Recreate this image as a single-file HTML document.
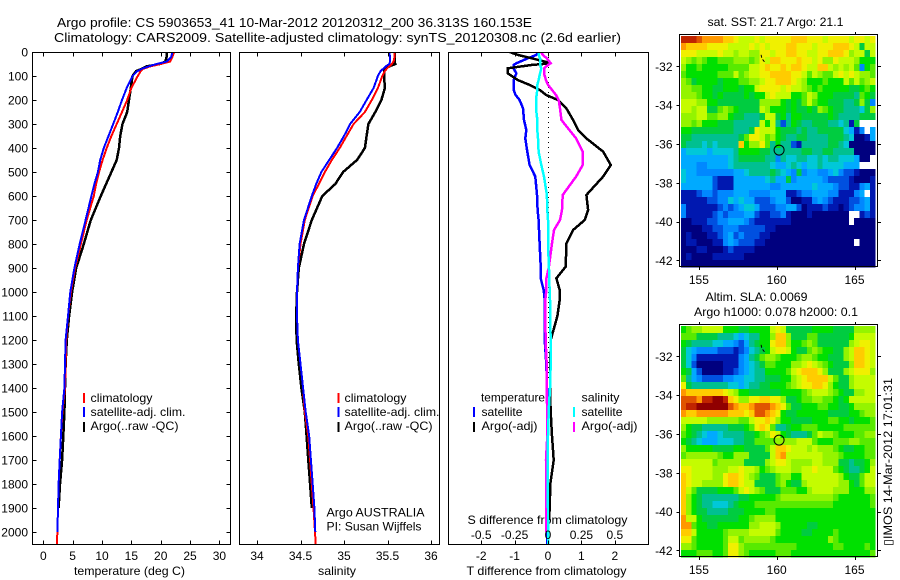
<!DOCTYPE html>
<html>
<head>
<meta charset="utf-8">
<title>Argo profile</title>
<style>
html,body{margin:0;padding:0;background:#fff;}
svg{display:block;}
text{font-family:"Liberation Sans",sans-serif;font-size:12px;fill:#000;}
.frame{fill:none;stroke:#000;stroke-width:1;shape-rendering:crispEdges;}
</style>
</head>
<body>
<svg id="chart" width="900" height="580" viewBox="0 0 900 580" xmlns="http://www.w3.org/2000/svg">
<text x="57" y="27" style="font-size:13px" textLength="475" lengthAdjust="spacingAndGlyphs">Argo profile: CS 5903653_41 10-Mar-2012 20120312_200 36.313S 160.153E</text>
<text x="54" y="42" style="font-size:13px" textLength="567" lengthAdjust="spacingAndGlyphs">Climatology: CARS2009. Satellite-adjusted climatology: synTS_20120308.nc (2.6d earlier)</text>
<text x="707.5" y="26" textLength="136" lengthAdjust="spacingAndGlyphs">sat. SST: 21.7 Argo: 21.1</text>
<text x="705.5" y="301" textLength="102" lengthAdjust="spacingAndGlyphs">Altim. SLA: 0.0069</text>
<text x="694" y="316" textLength="164" lengthAdjust="spacingAndGlyphs">Argo h1000: 0.078 h2000: 0.1</text>
<text transform="translate(892,546) rotate(-90)" textLength="168" lengthAdjust="spacingAndGlyphs">▯IMOS 14-Mar-2012 17:01:31</text>

<text x="74" y="575" textLength="111" lengthAdjust="spacingAndGlyphs">temperature (deg C)</text>
<text x="318" y="575" textLength="38" lengthAdjust="spacingAndGlyphs">salinity</text>
<text x="466.5" y="575" textLength="160" lengthAdjust="spacingAndGlyphs">T difference from climatology</text>
<text x="467.5" y="524" textLength="160" lengthAdjust="spacingAndGlyphs">S difference from climatology</text>

<text x="326.5" y="516.5" textLength="98" lengthAdjust="spacingAndGlyphs">Argo AUSTRALIA</text>
<text x="326.5" y="530.5" textLength="95" lengthAdjust="spacingAndGlyphs">PI: Susan Wijffels</text>

<g>
<rect x="83" y="393" width="2" height="10" fill="#f00"/>
<text x="90.5" y="402" textLength="62" lengthAdjust="spacingAndGlyphs">climatology</text>
<rect x="83" y="407" width="2" height="10" fill="#00f"/>
<text x="90.5" y="416" textLength="95" lengthAdjust="spacingAndGlyphs">satellite-adj. clim.</text>
<rect x="83" y="422" width="2" height="10" fill="#000"/>
<text x="90.5" y="430" textLength="88" lengthAdjust="spacingAndGlyphs">Argo(..raw -QC)</text>
</g>
<g>
<rect x="337.5" y="393" width="2" height="10" fill="#f00"/>
<text x="344.5" y="402" textLength="62" lengthAdjust="spacingAndGlyphs">climatology</text>
<rect x="337.5" y="407" width="2" height="10" fill="#00f"/>
<text x="344.5" y="416" textLength="95" lengthAdjust="spacingAndGlyphs">satellite-adj. clim.</text>
<rect x="337.5" y="422" width="2" height="10" fill="#000"/>
<text x="344.5" y="430" textLength="88" lengthAdjust="spacingAndGlyphs">Argo(..raw -QC)</text>
</g>
<g>
<text x="481" y="401.5" textLength="64" lengthAdjust="spacingAndGlyphs">temperature</text>
<rect x="473" y="407" width="2" height="10" fill="#00f"/>
<text x="481.5" y="416" textLength="41" lengthAdjust="spacingAndGlyphs">satellite</text>
<rect x="473" y="422" width="2" height="10" fill="#000"/>
<text x="481.5" y="430" textLength="56" lengthAdjust="spacingAndGlyphs">Argo(-adj)</text>
<text x="581.5" y="401.5" textLength="38" lengthAdjust="spacingAndGlyphs">salinity</text>
<rect x="573" y="407" width="2" height="10" fill="#0ff"/>
<text x="581.5" y="416" textLength="41" lengthAdjust="spacingAndGlyphs">satellite</text>
<rect x="573" y="422" width="2" height="10" fill="#f0f"/>
<text x="581.5" y="430" textLength="56" lengthAdjust="spacingAndGlyphs">Argo(-adj)</text>
</g>
</svg>
<script>
const profileDepth = [0,20,40,50,60,70,80,100,150,200,250,300,350,400,450,500,550,600,700,800,900,1000,1100,1200,1300,1400,1500,1600,1700,1800,1900,2000,2050];
const tempClim = [22.3,22.0,21.6,20.0,18.2,17.0,16.6,16.1,15.0,14.3,13.4,12.5,11.6,10.8,10.1,9.5,9.0,8.6,7.4,6.4,5.4,4.7,4.2,3.9,3.8,3.7,3.25,3.0,2.8,2.6,2.5,2.4,2.3];
const tempSat = [22.0,21.8,21.0,19.3,17.9,16.8,16.0,15.2,14.2,13.4,12.7,11.9,11.1,10.3,9.7,9.3,8.7,8.2,7.2,6.2,5.3,4.6,4.2,3.8,3.7,3.6,3.2,3.0,2.8,2.6,2.5,2.4,null];
const tempArgo = [21.0,21.0,20.8,19.9,17.6,16.8,15.8,15.2,14.9,14.6,14.3,13.5,13.1,12.9,12.5,11.6,10.7,9.8,8.1,6.9,5.6,4.9,4.4,4.0,3.8,3.7,3.6,3.4,3.2,2.85,2.6,null,null];
const salClim = [35.58,35.58,35.57,35.55,35.52,35.49,35.47,35.44,35.39,35.32,35.24,35.11,35.03,34.95,34.86,34.78,34.71,34.64,34.55,34.5,34.47,34.46,34.46,34.47,34.5,34.53,34.55,34.59,34.61,34.63,34.65,34.667,34.675];
const salSat = [35.52,35.53,35.53,35.52,35.48,35.45,35.42,35.39,35.34,35.26,35.18,35.07,35.0,34.92,34.83,34.74,34.68,34.63,34.54,34.49,34.47,34.46,34.46,34.47,34.5,34.53,34.56,34.6,34.62,34.64,34.66,34.67,null];
const salArgo = [35.58,35.58,35.58,35.59,35.52,35.47,35.46,35.46,35.47,35.43,35.36,35.28,35.26,35.24,35.15,34.99,34.9,34.75,34.63,34.54,34.48,34.46,34.45,34.455,34.48,34.51,34.55,34.57,34.59,34.61,34.63,null,null];

const diffDepth = [0,12,26,47,54,68,89,117,137,158,179,200,235,283,325,360,415,471,519,596,658,700,742,797,894,943,992,1033,1100,1200,1300,1400,1450,1500,1600,1700,1800,1900,1950,2000,2050];
const diffTempArgo = [-1.15,-0.9,-0.5,0.1,-0.5,-1.2,-1.2,-0.9,-0.55,-0.25,-0.05,0.3,0.55,0.75,0.9,1.15,1.65,1.88,1.65,1.15,1.2,1.1,0.75,0.55,0.53,0.25,0.35,0.35,0.28,0.08,0.07,0.07,0.07,0.08,0.12,0.17,0.07,0.05,0.03,null,null];
const diffTempSat = [-0.28,-0.35,-0.6,-0.95,-1.03,-1.03,-0.95,-1.03,-1.03,-1.03,-0.97,-0.85,-0.75,-0.72,-0.65,-0.68,-0.62,-0.55,-0.38,-0.33,-0.31,-0.28,-0.27,-0.25,-0.22,-0.22,-0.13,-0.1,-0.1,-0.1,-0.05,-0.03,-0.03,-0.01,0,-0.01,-0.01,-0.02,-0.02,-0.02,-0.02];
const diffSalSat = [-0.07,-0.07,-0.06,-0.06,-0.06,-0.05,-0.06,-0.07,-0.08,-0.08,-0.085,-0.09,-0.09,-0.08,-0.08,-0.075,-0.07,-0.05,-0.03,-0.008,-0.005,0,0,0,0.007,0.01,0.012,0.015,0.015,0.02,0.02,0.015,0.01,0.005,0,-0.002,-0.002,0,0,0,0];
const diffSalArgo = [-0.05,-0.04,-0.01,0.02,0,-0.03,-0.03,-0.015,0,0.03,0.06,0.08,0.09,0.1,0.16,0.21,0.26,0.26,0.21,0.11,0.105,0.09,0.045,0.03,0.007,-0.012,-0.012,-0.02,-0.02,-0.018,-0.01,-0.008,-0.008,-0.005,-0.005,-0.015,-0.012,-0.012,-0.012,-0.012,null];

const depthTicks = [0,100,200,300,400,500,600,700,800,900,1000,1100,1200,1300,1400,1500,1600,1700,1800,1900,2000];
const tempTicks = [0,5,10,15,20,25,30];
const salTicks = [34,34.5,35,35.5,36];
const diffTempTicks = [-2,-1,0,1,2];
const diffSalTicks = [-0.5,-0.25,0,0.25,0.5];
const lonTicks = [155,160,165];
const latTicks = [-32,-34,-36,-38,-40,-42];
const argoLon = 160.153;
const argoLat = -36.313;
const islandLon = [159.0,159.05,159.2,159.25];
const islandLat = [-31.4,-31.6,-31.75,-31.85];

const levelNames = "abcdefghijklmnopqr";
const levelColors = ["#00007f","#0018b0","#0050e0","#0088ff","#00aaff","#00c8d8","#00c090","#00cc40","#00e000","#58ea00","#94f400","#c4fc00","#f0f000","#ffcc00","#ff9800","#e05400","#c02400","#900000"];

const sstRows = [
"qqqpoooonnmlllmlmmmmmnnnmmmlmmmmlmmlm",
"onnnnmmmmllllmlmlmmmnnmmmlmmmnnnmlhll",
"mmmllllmllkllkkmmlmmnnmmllmmnnnmkllhl",
"lkjkjiijjjkkkjkmlnnmmmnmmlmkkmlllkiii",
"kiijiiiiijjjjllmnmmnmnnmllnnlklkljdij",
"jiiiiiijjjljkllmmnnnnmmljlkjjlmlmlkkj",
"kjhiiiihiiijjkklmmnnnmlkiiijiiiljljkl",
"kkjjiihhiiihiilmmmmlmllkjijiiiiihhiji",
"kkkjiihihhhhihiilmllliijlkiiihhhhgjih",
"lllkkiihhhhhhhhkkkkihihjljiihhhgghkhd",
"llkllhhjkjihhhhlkiiihihhihkjihhgggfhk",
"kkklljjkkihhggghllhigiihhhhhihgggghhh",
"kkjkiiihhhggggglilgcgihgghhhggfgbhwww",
"iihhhhhhhhggghmlllihhhghgghhhhhfebdwe",
"hhggggggggghjmmljkihgghhgggghhhgfaabe",
"hgggfgfggggnikkmjgiggcbggggghhgfaaaaa",
"effffeffffgiiiihhgggggghhgghhggggaaaa",
"eeeeeeeeefghhhhhggdgffggffgfggfffeaaw",
"eeeddeeeefgggggggfeefgfeffgffffeeewww",
"feedddddddeefgggghgfedhdeeddefdccbaaa",
"feeeeecbbbeeeeeefgeehdeeeeedccccbaaab",
"eeeeeecbbbeeeeeeeddeeeeeefeeedccbbdeb",
"bbbcddcdddeeeddddeeebbcddeeeddbbbdewb",
"bbbbbccddfefeecccdeecaabbdedcbbbccdeb",
"dbbbbbbcdcdeffecccddeecabbbcbbabcddeb",
"dbbbbbcdcdddeecbbccdbaaabaaaaaaawwbcb",
"aabbbccddeeedcbbbbbbbaaaaaaaaaaawaaaa",
"aaaabbccdddcccccbbaaaaaaaaaaaaaaaaaaa",
"abaaabbcdecdcccbbaaaaaaaaaaaaaaaaaaaa",
"abbaaabbdedcccbbaaaaaaaaaaaaaaaaawaaa",
"aaabbaaabcbbbbaaaaaaaaaaaaaaaaaaaaaaa",
"abaaaabbbbbbaaaaaaaaaaaaaaaaaaaaaaaaa",
"aaaaaaaaaaaaaaaaaaaaaaaaaaaaaaaaaaaaa"
];
const slaRows = [
"ijkklllliiihhiiiilmlhhhhhiiiihhhhkkkk",
"jjjhhhhgggfefggiiknnkhhhjjhhhhhhillll",
"ihggggffeedceghiimnnkiijkjhhhhhhklmml",
"hfeddddcccbcdfghilmmlihhjkjiihhklnnml",
"hfdbbbbbbbbdeghjkkjiiijkkjiihhhklnnml",
"hfcaaaaabbbdefghjjiiikklmlkjihhhknnml",
"ihecaaaabbcdefggiiiijlmnnnmkhhhklmmmk",
"jgedccccddeeffgghhhiiklmnnnnljhhkllll",
"mhgggggggffefgghhiiijklmmnnmkihhkllll",
"onnnnnnnmlkiihhhhhhiiiijklllkjihhkkll",
"pppoqqrrqnmkkmmnnmmkhhijjkkjjihilllll",
"pqqrrrrrrponnoppponmjhhiiijjiihhikkkk",
"onnoooooonnnmnpponmihhiiiiiihhhhiijkk",
"lllllkkkkkkjjlmmnmkiihhhhiiijjiihiiij",
"kihhggggghhhijmnmjgghiijjjiiiiijjjjjj",
"jihgfeefgggghhijkmlihggghjlkkjiiijjkk",
"ihgfeeefffgghhjjjjkkkkllljiiijjjkkjjj",
"kiiiiihhhhiihhhhjlnnmlllklkkkjihhiijj",
"jkkkkkkjiikkkhhhhlnolllllllkkkjiiiijj",
"lllllljkkkkkhhhhklmmlkkkkllkkkhhghhik",
"mmllllkkkllmllkijklllkkllmllljihgghil",
"nmllllkkmnnmlkjhhhjkkiilllllllkihhjll",
"nmllkkkkmnnmllhhhhjkihhkllllllkkihjll",
"nljhhhhiiijlmlkjhhhjjjiikllllkkkiiikk",
"nkihggggggghhiiiiijkkkkkkkkkkjiiiiiij",
"nkihggfffghiiijjjjjjjjjjjjjjjiiiiiiij",
"nkihhgggghhhiiiijjiiiiiiiiiiiiiiiiiii",
"ollihhhhhhhiijkkkkiiiiiiiiiiiiiiiiiii",
"oojiihhiiiiiikklllkiiiiihhiiiiiiiiiii",
"nnliiiiijkkkkllllljiiiihhiiiijiiiiiii",
"mmjiiiiijlljkkkkkjiiiiiiiiiikjiiiiiii",
"kkjiiiiijmmkjjjjjjjjjjiiiiiiijjiiiiji",
"iiijjjiijmmkjiiiiijjjiiiiiiiiiiiiiiij"
];

const NS = "http://www.w3.org/2000/svg";
const svg = document.getElementById("chart");
const yDepth = d => 52 + d * 0.24;
const xTemp = t => 43.3 + t * 5.87;
const xSal = s => 257 + (s - 34) * 87;
const xDiffT = t => 548 + t * 33.4;
const xDiffS = s => 548 + s * 133.6;
const xLon = lon => 776.7 + (lon - 160) * 15.56;
const yLatTop = lat => 144 + (-36 - lat) * 19.4;
const yLatBottom = lat => 434 + (-36 - lat) * 19.4;

function add(tag, attrs, parent) {
  const el = document.createElementNS(NS, tag);
  for (const k in attrs) el.setAttribute(k, attrs[k]);
  (parent || svg).appendChild(el);
  return el;
}
function addTick(x1, y1, x2, y2) {
  const el = add("line", {x1: x1, y1: y1, x2: x2, y2: y2, stroke: "#000", "stroke-width": 1, "shape-rendering": "crispEdges"});
  
  
}
function addLabel(str, x, y, anchor) {
  const el = add("text", {x: x, y: y, "text-anchor": anchor || "middle"});
  el.textContent = str;
  
  
}
function addFrame(x, y, w, h, name) {
  const el = add("rect", {x: x, y: y, width: w, height: h, "class": "frame"});
  
  
}
function addLine(xs, ys, xFn, color, width, name, clipId) {
  const pts = [];
  for (let i = 0; i < xs.length; i++) {
    if (xs[i] !== null) pts.push(xFn(xs[i]).toFixed(1) + "," + yDepth(ys[i]).toFixed(1));
  }
  const el = add("polyline", {points: pts.join(" "), fill: "none", stroke: color, "stroke-width": width, "shape-rendering": "crispEdges", "clip-path": "url(#" + clipId + ")"});
  
  
}

const defs = add("defs", {});
function addClip(id, x, y, w, h) {
  const c = add("clipPath", {id: id}, defs);
  add("rect", {x: x, y: y, width: w, height: h}, c);
}
addClip("clip-temp", 32.5, 52.5, 198, 492);
addClip("clip-sal", 240, 52.5, 199, 492);
addClip("clip-diff", 449, 52.5, 199, 492);

/* temperature panel */
addLine(tempArgo, profileDepth, xTemp, "#000", 2.5, "temperature-argo-line", "clip-temp");
addLine(tempClim, profileDepth, xTemp, "#f00", 2, "temperature-climatology-line", "clip-temp");
addLine(tempSat, profileDepth, xTemp, "#00f", 2, "temperature-satellite-line", "clip-temp");
addFrame(32.5, 52.5, 198, 492, "temperature-panel-frame");
depthTicks.forEach(d => {
  const y = Math.round(yDepth(d)) + 0.5;
  addTick(32.5, y, 36.5, y);
  addTick(226.5, y, 230.5, y);
  addLabel(String(d), 28, yDepth(d) + 4.5, "end");
});
tempTicks.forEach(t => {
  const x = Math.round(xTemp(t)) + 0.5;
  addTick(x, 52.5, x, 56.5);
  addTick(x, 540.5, x, 544.5);
  addLabel(String(t), xTemp(t), 560);
});

/* salinity panel */
addLine(salArgo, profileDepth, xSal, "#000", 2.5, "salinity-argo-line", "clip-sal");
addLine(salClim, profileDepth, xSal, "#f00", 2, "salinity-climatology-line", "clip-sal");
addLine(salSat, profileDepth, xSal, "#00f", 2, "salinity-satellite-line", "clip-sal");
addFrame(239.5, 52.5, 200, 492, "salinity-panel-frame");
salTicks.forEach(s => {
  const x = Math.round(xSal(s)) + 0.5;
  addTick(x, 52.5, x, 56.5);
  addTick(x, 540.5, x, 544.5);
  addLabel(String(s), xSal(s), 560);
});

/* difference panel */
const zero = add("line", {x1: 548.5, y1: 52, x2: 548.5, y2: 380, stroke: "#000", "stroke-width": 1, "stroke-dasharray": "1 4"});


addLine(diffTempSat, diffDepth, xDiffT, "#00f", 2.5, "t-difference-satellite-line", "clip-diff");
addLine(diffTempArgo, diffDepth, xDiffT, "#000", 2.5, "t-difference-argo-line", "clip-diff");
addLine(diffSalArgo, diffDepth, xDiffS, "#f0f", 2.5, "s-difference-argo-line", "clip-diff");
addLine(diffSalSat, diffDepth, xDiffS, "#0ff", 2.5, "s-difference-satellite-line", "clip-diff");
addFrame(448.5, 52.5, 200, 492, "difference-panel-frame");
diffTempTicks.forEach(t => {
  const x = Math.round(xDiffT(t)) + 0.5;
  addTick(x, 52.5, x, 56.5);
  addTick(x, 540.5, x, 544.5);
  addLabel(String(t), xDiffT(t), 560);
});
diffSalTicks.forEach(s => {
  addLabel(String(s), xDiffS(s), 539);
});

/* maps */
function drawMap(rows, top, yLat, name) {
  const g = add("g", {"shape-rendering": "crispEdges"});
  
  
  const cols = 37;
  const cellW = 194 / cols;
  const cellH = 231 / rows.length;
  rows.forEach((row, r) => {
    for (let c = 0; c < cols; c++) {
      const ch = row[Math.min(c, row.length - 1)];
      const idx = levelNames.indexOf(ch);
      const cell = add("rect", {
        x: (681 + c * cellW).toFixed(2),
        y: (top + 2 + r * cellH).toFixed(2),
        width: (cellW + 0.3).toFixed(2),
        height: (cellH + 0.3).toFixed(2),
        fill: idx < 0 ? "#fff" : levelColors[idx]
      }, g);
      
      
    }
  });
  addFrame(679.5, top + 0.5, 198, 232, name + "-frame");
  lonTicks.forEach(lon => {
    const x = Math.round(xLon(lon)) + 0.5;
    addTick(x, top - 2, x, top);
    addTick(x, top + 233, x, top + 236);
    addLabel(String(lon), xLon(lon), top + 250);
  });
  latTicks.forEach(lat => {
    const y = Math.round(yLat(lat)) + 0.5;
    addTick(676.5, y, 679.5, y);
    addTick(878, y, 881, y);
    addLabel(String(lat), 672.5, yLat(lat) + 4.5, "end");
  });
  const isle = add("polyline", {points: islandLon.map((lon, i) => xLon(lon).toFixed(1) + "," + yLat(islandLat[i]).toFixed(1)).join(" "), fill: "none", stroke: "#000", "stroke-width": 1, "stroke-dasharray": "3 2"});
  
  
  const marker = add("circle", {cx: xLon(argoLon), cy: yLat(argoLat), r: 5, fill: "none", stroke: "#000", "stroke-width": 1});
  
  
}
drawMap(sstRows, 34, yLatTop, "sst-map");
drawMap(slaRows, 324, yLatBottom, "sla-map");
</script>
</body>
</html>
